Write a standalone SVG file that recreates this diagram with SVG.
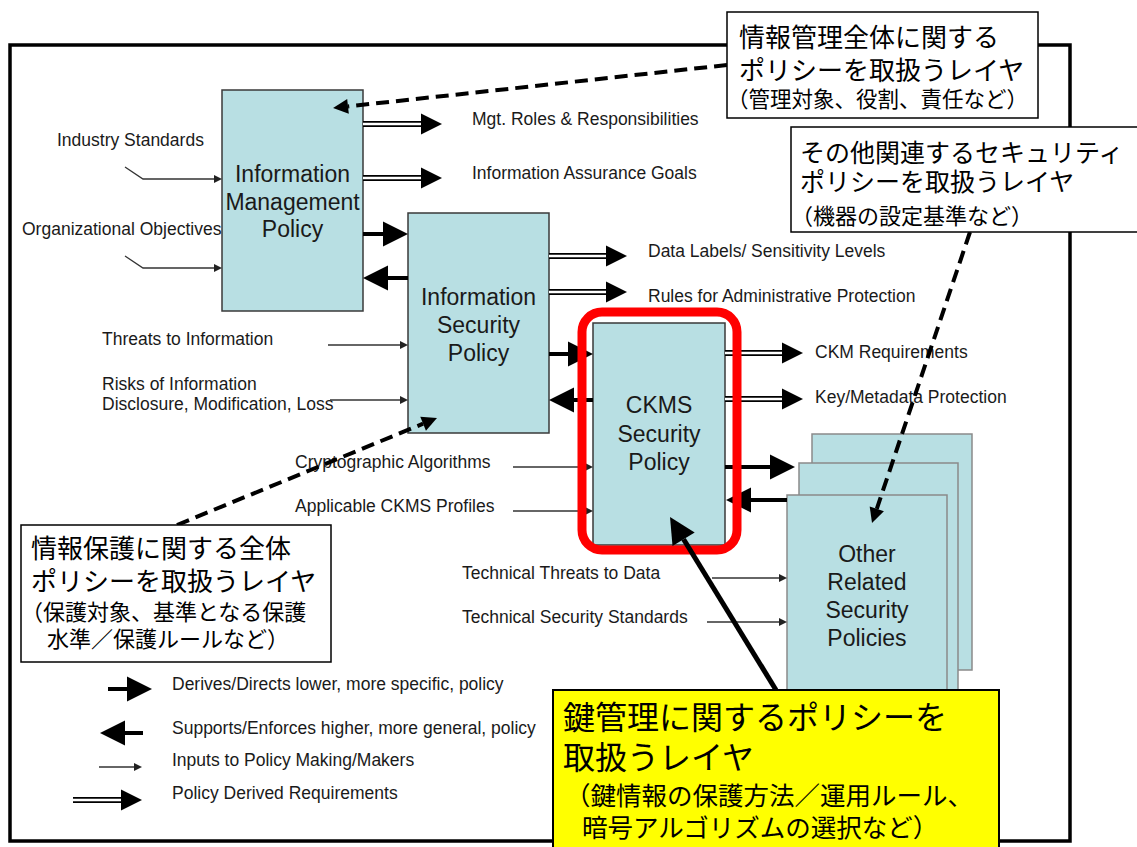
<svg xmlns="http://www.w3.org/2000/svg" width="1137" height="847" viewBox="0 0 1137 847">
<style>
.box{fill:#b8dfe3;stroke:#3a3a3a;stroke-width:1.5}
.stk{fill:#b8dfe3;stroke:#8a8a8a;stroke-width:1.5}
.bt{font-family:"Liberation Sans",Arial,sans-serif;font-size:23px;fill:#1a1a1a;text-anchor:middle}
.lb{font-family:"Liberation Sans",Arial,sans-serif;font-size:17.5px;fill:#1a1a1a}
.jp{font-family:"Liberation Sans","Noto Sans CJK JP",sans-serif;fill:#000}
.bold{stroke:#000;stroke-width:4;fill:none}
.dbl{stroke:#000;stroke-width:6;fill:none}
.dblw{stroke:#fff;stroke-width:2.4;fill:none}
.thin{stroke:#333;stroke-width:1.3;fill:none}
.dash{stroke:#000;stroke-width:4;fill:none;stroke-dasharray:13 7}
.call{fill:#fff;stroke:#000;stroke-width:1.5}
</style>
<defs>
<marker id="mBold" markerUnits="userSpaceOnUse" markerWidth="26" markerHeight="26" refX="0" refY="12.5" orient="auto" overflow="visible"><path d="M0,0 L25,12.5 L0,25 z" fill="#000"/></marker>
<marker id="mDbl" markerUnits="userSpaceOnUse" markerWidth="22" markerHeight="22" refX="0" refY="10.5" orient="auto" overflow="visible"><path d="M0,0 L21,10.5 L0,21 z" fill="#000"/></marker>
<marker id="mThin" markerUnits="userSpaceOnUse" markerWidth="9" markerHeight="9" refX="0" refY="4" orient="auto" overflow="visible"><path d="M0,0 L8,4 L0,8 z" fill="#222"/></marker>
<marker id="mDash" markerUnits="userSpaceOnUse" markerWidth="16" markerHeight="16" refX="0" refY="7.5" orient="auto" overflow="visible"><path d="M0,0 L15,7.5 L0,15 z" fill="#000"/></marker>
<marker id="mThick" markerUnits="userSpaceOnUse" markerWidth="27" markerHeight="27" refX="0" refY="13" orient="auto" overflow="visible"><path d="M0,0 L26,13 L0,26 z" fill="#000"/></marker>
</defs>

<rect id="frame" x="10" y="45" width="1060" height="796" fill="#fff" stroke="#000" stroke-width="3.5"/>

<g id="node-info-mgmt">
<rect class="box" x="222" y="90" width="141" height="221"/>
<text class="bt" x="292.5" y="182">Information</text>
<text class="bt" x="292.5" y="210">Management</text>
<text class="bt" x="292.5" y="237">Policy</text>
</g>
<g id="node-info-sec">
<rect class="box" x="408" y="213" width="141" height="220"/>
<text class="bt" x="478.5" y="305">Information</text>
<text class="bt" x="478.5" y="333">Security</text>
<text class="bt" x="478.5" y="361">Policy</text>
</g>
<g id="node-ckms">
<rect class="box" x="593" y="323" width="132" height="222"/>
<text class="bt" x="659" y="413">CKMS</text>
<text class="bt" x="659" y="442">Security</text>
<text class="bt" x="659" y="470">Policy</text>
</g>
<g id="node-other">
<rect class="stk" x="812" y="434" width="160" height="236"/>
<rect class="stk" x="799" y="463" width="159" height="240"/>
<rect class="stk" x="787" y="495" width="160" height="210"/>
<text class="bt" x="867" y="562">Other</text>
<text class="bt" x="867" y="590">Related</text>
<text class="bt" x="867" y="618">Security</text>
<text class="bt" x="867" y="646">Policies</text>
</g>

<g id="labels">
<text class="lb" x="472" y="125">Mgt. Roles &amp; Responsibilities</text>
<text class="lb" x="472" y="179">Information Assurance Goals</text>
<text class="lb" x="648" y="257">Data Labels/ Sensitivity Levels</text>
<text class="lb" x="648" y="302">Rules for Administrative Protection</text>
<text class="lb" x="815" y="358">CKM Requirements</text>
<text class="lb" x="815" y="403">Key/Metadata Protection</text>
<text class="lb" x="57" y="146">Industry Standards</text>
<text class="lb" x="22" y="235">Organizational Objectives</text>
<text class="lb" x="102" y="345">Threats to Information</text>
<text class="lb" x="102" y="390">Risks of Information</text>
<text class="lb" x="102" y="410">Disclosure, Modification, Loss</text>
<text class="lb" x="295" y="468">Cryptographic Algorithms</text>
<text class="lb" x="295" y="512">Applicable CKMS Profiles</text>
<text class="lb" x="462" y="579">Technical Threats to Data</text>
<text class="lb" x="462" y="623">Technical Security Standards</text>
</g>

<g id="connectors">
<line class="bold" x1="363" y1="234" x2="383" y2="234" marker-end="url(#mBold)"/>
<line class="bold" x1="408" y1="278" x2="388" y2="278" marker-end="url(#mBold)"/>
<line class="bold" x1="549" y1="354" x2="568" y2="354" marker-end="url(#mBold)"/>
<line class="bold" x1="593" y1="400" x2="574" y2="400" marker-end="url(#mBold)"/>
<line class="bold" x1="725" y1="467" x2="770" y2="467" marker-end="url(#mBold)"/>
<line class="bold" x1="787" y1="500" x2="751" y2="500" marker-end="url(#mBold)"/>

<line class="dbl" x1="363" y1="124" x2="421" y2="124" marker-end="url(#mDbl)"/><line class="dblw" x1="363" y1="124" x2="421" y2="124"/>
<line class="dbl" x1="363" y1="178" x2="421" y2="178" marker-end="url(#mDbl)"/><line class="dblw" x1="363" y1="178" x2="421" y2="178"/>
<line class="dbl" x1="549" y1="256" x2="606" y2="256" marker-end="url(#mDbl)"/><line class="dblw" x1="549" y1="256" x2="606" y2="256"/>
<line class="dbl" x1="549" y1="292" x2="606" y2="292" marker-end="url(#mDbl)"/><line class="dblw" x1="549" y1="292" x2="606" y2="292"/>
<line class="dbl" x1="725" y1="353" x2="782" y2="353" marker-end="url(#mDbl)"/><line class="dblw" x1="725" y1="353" x2="782" y2="353"/>
<line class="dbl" x1="725" y1="399" x2="782" y2="399" marker-end="url(#mDbl)"/><line class="dblw" x1="725" y1="399" x2="782" y2="399"/>

<polyline class="thin" points="125,167 143,179 214,179" marker-end="url(#mThin)"/>
<polyline class="thin" points="125,256 143,268 214,268" marker-end="url(#mThin)"/>
<line class="thin" x1="328" y1="345" x2="400" y2="345" marker-end="url(#mThin)"/>
<line class="thin" x1="330" y1="400" x2="400" y2="400" marker-end="url(#mThin)"/>
<line class="thin" x1="513" y1="467" x2="585" y2="467" marker-end="url(#mThin)"/>
<line class="thin" x1="513" y1="511" x2="585" y2="511" marker-end="url(#mThin)"/>
<line class="thin" x1="712" y1="578" x2="779" y2="578" marker-end="url(#mThin)"/>
<line class="thin" x1="707" y1="622" x2="779" y2="622" marker-end="url(#mThin)"/>
</g>

<rect id="ckms-highlight" x="582" y="312" width="155" height="238" rx="20" ry="20" fill="none" stroke="#ff0000" stroke-width="9"/>

<g id="callout-connectors">
<line class="dash" x1="727" y1="65" x2="348" y2="106.4" marker-end="url(#mDash)"/>
<line class="dash" x1="970" y1="232" x2="876.8" y2="508.8" marker-end="url(#mDash)"/>
<line class="dash" x1="177" y1="525" x2="423.1" y2="423.7" marker-end="url(#mDash)"/>
<line x1="776" y1="690" x2="683.6" y2="539.2" stroke="#000" stroke-width="5" marker-end="url(#mThick)"/>
</g>

<g id="legend">
<line class="bold" x1="108" y1="689" x2="127" y2="689" marker-end="url(#mBold)"/>
<line class="bold" x1="143" y1="733" x2="125" y2="733" marker-end="url(#mBold)"/>
<line class="thin" x1="99" y1="767" x2="134" y2="767" marker-end="url(#mThin)"/>
<line class="dbl" x1="73" y1="800" x2="121" y2="800" marker-end="url(#mDbl)"/><line class="dblw" x1="73" y1="800" x2="121" y2="800"/>
<text class="lb" x="172" y="690">Derives/Directs lower, more specific, policy</text>
<text class="lb" x="172" y="734">Supports/Enforces higher, more general, policy</text>
<text class="lb" x="172" y="766">Inputs to Policy Making/Makers</text>
<text class="lb" x="172" y="799">Policy Derived Requirements</text>
</g>

<g id="callout-info-mgmt">
<rect class="call" x="727" y="12" width="311" height="106"/>
<text class="jp" x="739" y="47" font-size="26">情報管理全体に関する</text>
<text class="jp" x="739" y="80" font-size="26">ポリシーを取扱うレイヤ</text>
<text class="jp" x="727" y="107" font-size="21.5">（管理対象、役割、責任など）</text>
</g>
<g id="callout-other">
<rect class="call" x="791" y="127" width="348" height="105"/>
<text class="jp" x="800" y="162" font-size="25">その他関連するセキュリティ</text>
<text class="jp" x="800" y="191" font-size="25">ポリシーを取扱うレイヤ</text>
<text class="jp" x="791" y="224" font-size="22">（機器の設定基準など）</text>
</g>
<g id="callout-info-sec">
<rect class="call" x="21" y="525" width="310" height="137"/>
<text class="jp" x="31" y="558" font-size="26">情報保護に関する全体</text>
<text class="jp" x="31" y="591" font-size="26">ポリシーを取扱うレイヤ</text>
<text class="jp" x="21" y="620" font-size="22">（保護対象、基準となる保護</text>
<text class="jp" x="47" y="647" font-size="22">水準／保護ルールなど）</text>
</g>
<g id="callout-ckms">
<rect x="553" y="690" width="446" height="170" fill="#ffff00" stroke="#000" stroke-width="2"/>
<text class="jp" x="563" y="729" font-size="32">鍵管理に関するポリシーを</text>
<text class="jp" x="563" y="769" font-size="32">取扱うレイヤ</text>
<text class="jp" x="565" y="805" font-size="25.5">（鍵情報の保護方法／運用ルール、</text>
<text class="jp" x="582" y="837" font-size="25.5">暗号アルゴリズムの選択など）</text>
</g>
</svg>
